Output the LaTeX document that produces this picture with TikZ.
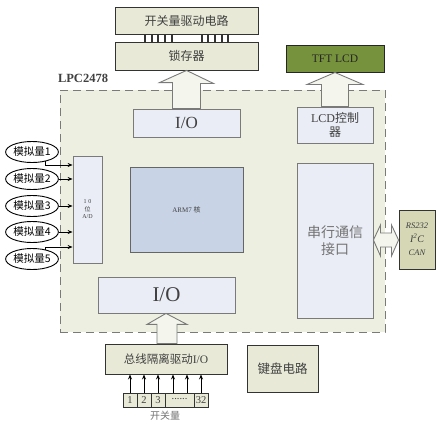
\documentclass[tikz,border=0pt]{standalone}
\usepackage{fontspec}
\setmainfont{Liberation Serif}
\newfontfamily\cjk{Noto Sans CJK SC}
\usetikzlibrary{calc,arrows.meta,shapes.geometric}
\definecolor{regfill}{HTML}{EDF0E1}
\definecolor{beige}{HTML}{E8E9D7}
\definecolor{lav}{HTML}{EAEDF6}
\definecolor{armblue}{HTML}{C8D4E6}
\definecolor{tftgreen}{HTML}{76923C}
\definecolor{rsfill}{HTML}{D5D7B5}
\definecolor{txt}{HTML}{404040}
\definecolor{edge}{HTML}{7A7A7A}
\tikzset{
  outerbox/.style={draw=black!80,line width=0.9pt,fill=beige,text=txt,inner sep=0pt,font=\cjk\fontsize{12}{14}\selectfont},
  innerbox/.style={draw=edge,line width=0.8pt,fill=lav,text=txt,inner sep=0pt},
  ellbox/.style={draw=black,line width=0.9pt,fill=white,ellipse,minimum width=50pt,minimum height=21pt,inner sep=0pt,font=\cjk\fontsize{10.5}{11}\selectfont},
  cell/.style={draw=black!80,line width=0.8pt,fill=beige,minimum height=14pt,inner sep=0pt,font=\fontsize{10.5}{10.5}\selectfont,text=txt},
  hollow/.style={draw=edge,line width=0.9pt,fill=white!40!regfill},
  sig/.style={-{Stealth[length=5pt,width=4pt]},line width=0.8pt},
}
\begin{document}
\begin{tikzpicture}[x=1pt,y=-1pt]
\useasboundingbox[fill=white] (0,0) rectangle (445,423);
% chip region
\node[draw=edge,dashed,dash pattern=on 8pt off 5pt,line width=0.9pt,fill=regfill,minimum width=325pt,minimum height=242pt,inner sep=0pt] (chip) at (222.5,211) {};
\node[font=\bfseries\fontsize{12.5}{13}\selectfont,text=txt] (lpc) at (83,78) {LPC2478};
% top boxes
\node[outerbox,minimum width=143pt,minimum height=27pt] (drv) at (186.5,20.5) {开关量驱动电路};
\node[outerbox,minimum width=143pt,minimum height=28pt] (latch) at (186.5,56) {锁存器};
\foreach \x in {145,152,158,165,172,202,208,215,222,228}
  \draw[line width=1.1pt,black!80] (drv.south -| \x,0) -- (latch.north -| \x,0);
\node[draw=black!85,line width=1pt,fill=tftgreen,minimum width=98pt,minimum height=27pt,inner sep=0pt,font=\fontsize{11.5}{12}\selectfont,text=black!85] (tft) at (335,58.5) {TFT LCD};
% inner boxes
\node[innerbox,minimum width=107pt,minimum height=28pt,font=\fontsize{17}{18}\selectfont] (io1) at (186.5,123) {I/O};
\node[innerbox,minimum width=76pt,minimum height=36pt,align=center,font=\cjk\fontsize{12}{13.5}\selectfont] (lcdc) at (335,125) {\fontspec{Liberation Serif}LCD\cjk 控制\\器};
\node[innerbox,minimum width=29pt,minimum height=107pt,align=center,font=\fontsize{6}{7.5}\selectfont] (ad) at (87.5,209.5) {1\,\,0\\{\cjk 位}\\A/D};
\node[draw=black!60,line width=0.8pt,fill=armblue,minimum width=113pt,minimum height=85pt,inner sep=0pt,font=\fontsize{7}{8}\selectfont,text=txt] (arm) at (186.5,209.5) {ARM7 {\cjk 核}};
\node[innerbox,minimum width=76pt,minimum height=155pt,align=center,font=\cjk\fontsize{14}{17}\selectfont,text=black!55] (ser) at (335,240.5) {串行通信\\接口};
\node[draw=black!80,line width=0.9pt,fill=rsfill,minimum width=36pt,minimum height=59pt,inner sep=0pt,align=center,font=\itshape\fontsize{8.5}{13.5}\selectfont,text=txt] (rs) at (417,239.5) {RS232\\{\fontsize{10}{10}\selectfont I\textsuperscript{2}C}\\CAN};
\node[innerbox,minimum width=137pt,minimum height=36pt,font=\fontsize{21}{22}\selectfont] (io2) at (166.5,295) {I/O};
% bottom
\node[outerbox,minimum width=122pt,minimum height=30pt,font=\cjk\fontsize{11.5}{13}\selectfont] (bus) at (166,359) {总线隔离驱动\fontspec{Liberation Serif}I/O};
\node[outerbox,minimum width=71pt,minimum height=47pt,font=\cjk\fontsize{12.5}{14}\selectfont] (kb) at (282.5,368.5) {键盘电路};
\node[cell,minimum width=14pt] (c1) at (130,400) {1};
\node[cell,minimum width=14pt] (c2) at (144,400) {2};
\node[cell,minimum width=14pt] (c3) at (158,400) {3};
\node[cell,minimum width=29pt] (cd) at (179.5,400) {\raisebox{2pt}{......}};
\node[cell,minimum width=14pt] (c32) at (201,400) {32};
\node[font=\cjk\fontsize{10}{10}\selectfont,text=black!55] (swl) at (165,416) {开关量};
\draw[sig] (c1.north) -- (bus.south -| c1.north);
\draw[sig] (c2.north) -- (bus.south -| c2.north);
\draw[sig] (c3.north) -- (bus.south -| c3.north);
\draw[sig] (cd.north -| 173,0) -- (bus.south -| 173,0);
\draw[sig] (cd.north -| 187,0) -- (bus.south -| 187,0);
\draw[sig] (c32.north) -- (bus.south -| c32.north);
% ellipses
\node[ellbox] (e1) at (32,152) {模拟量1};
\node[ellbox] (e2) at (32,179) {模拟量2};
\node[ellbox] (e3) at (32,206) {模拟量3};
\node[ellbox] (e4) at (32,232) {模拟量4};
\node[ellbox] (e5) at (32,259) {模拟量5};
\draw[sig] (e1.-35) |- (ad.west |- 0,165);
\draw[sig] (e2.east) -- (ad.west |- e2.east);
\draw[sig] (e3.east) -- (ad.west |- e3.east);
\draw[sig] (e4.east) -- (ad.west |- e4.east);
\draw[sig] (e5.35) |- (ad.west |- 0,247);
% hollow arrows
\draw[hollow] ($(io1.north)+(-14,0)$) -- ++(0,-26) -- ++(-13,0) -- (latch.south) -- ($(latch.south)+(27,13)$) -- ++(-13,0) -- ($(io1.north)+(14,0)$) -- cycle;
\draw[hollow] ($(lcdc.north)+(-13.5,0)$) -- ($(tft.south)+(-13.5,12)$) -- ++(-14.5,0) -- (tft.south) -- ($(tft.south)+(28,12)$) -- ++(-14.5,0) -- ($(lcdc.north)+(13.5,0)$) -- cycle;
\draw[hollow] ($(bus.north)+(-9,0)$) -- ($(io2.south)+(-9.5,11)$) -- ++(-10,0) -- (io2.south -| bus.north) -- ($(io2.south)+(20.5,11)$) -- ++(-10,0) -- ($(bus.north)+(11,0)$) -- cycle;
\draw[hollow] (ser.east |- 0,240) -- (380.5,225) -- (380.5,233) -- (391.5,233) -- (391.5,225) -- (rs.west |- 0,240) -- (391.5,256) -- (391.5,247) -- (380.5,247) -- (380.5,256) -- cycle;
\end{tikzpicture}
\end{document}
